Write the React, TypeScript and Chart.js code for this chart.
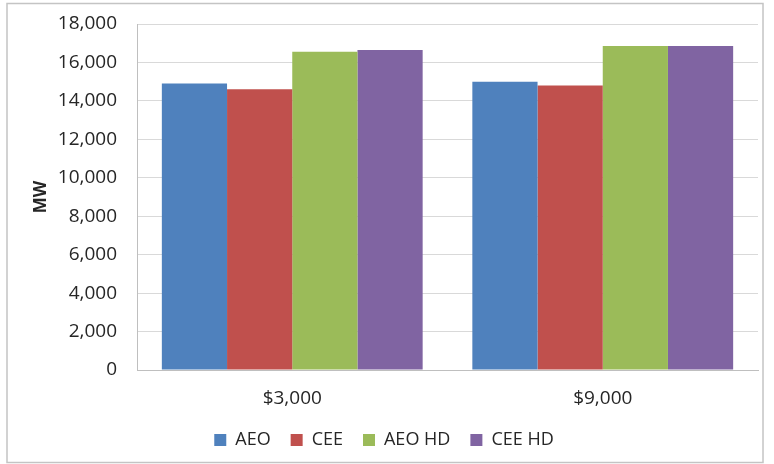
import React, { useEffect, useRef } from "react";
import { Chart, registerables } from "chart.js";

Chart.register(...registerables);

const categories = ["$3,000", "$9,000"];
const seriesNames = ["AEO", "CEE", "AEO HD", "CEE HD"];
const aeo = [14900, 15000];
const cee = [14600, 14800];
const aeoHd = [16550, 16850];
const ceeHd = [16650, 16850];
const seriesColors = ["#4F81BD", "#C0504D", "#9BBB59", "#8064A2"];
const yTicks = [0, 2000, 4000, 6000, 8000, 10000, 12000, 14000, 16000, 18000];

const W = 774;
const H = 464;
const FONT = "'Open Sans', 'DejaVu Sans', sans-serif";
const TEXT = "#262626";

// Light frame around the whole chart
const framePlugin = {
  id: "frame",
  afterDraw(chart: any) {
    const ctx = chart.ctx;
    ctx.save();
    ctx.strokeStyle = "#c4c4c4";
    ctx.lineWidth = 1.5;
    ctx.strokeRect(7, 3.5, 756, 459);
    ctx.restore();
  },
};

export default function App() {
  const ref = useRef<HTMLCanvasElement | null>(null);

  useEffect(() => {
    if (!ref.current) return;
    const values = [aeo, cee, aeoHd, ceeHd];
    const chart = new Chart(ref.current, {
      type: "bar",
      data: {
        labels: categories,
        datasets: seriesNames.map((name, i) => ({
          label: name,
          data: values[i],
          backgroundColor: seriesColors[i],
          borderWidth: 0,
          categoryPercentage: 0.84,
          barPercentage: 1.0,
        })),
      },
      options: {
        animation: false,
        responsive: false,
        maintainAspectRatio: false,
        layout: { padding: { left: 10, right: 16, top: 24, bottom: 5 } },
        font: { family: FONT },
        plugins: {
          tooltip: { enabled: false },
          legend: {
            position: "bottom",
            labels: {
              boxWidth: 12,
              boxHeight: 12,
              padding: 20,
              color: TEXT,
              font: { family: FONT, size: 18 },
            },
          },
        },
        scales: {
          x: {
            grid: { display: false, drawTicks: false },
            border: { display: true, color: "#bfbfbf", width: 1 },
            ticks: { color: TEXT, padding: 17, font: { family: FONT, size: 19 } },
            afterFit(scale: any) {
              scale.height = 41;
            },
          },
          y: {
            min: 0,
            max: 18000,
            afterBuildTicks(scale: any) {
              scale.ticks = yTicks.map((v) => ({ value: v }));
            },
            grid: { color: "#d9d9d9", lineWidth: 1, drawTicks: false },
            border: { display: true, color: "#bfbfbf", width: 1 },
            ticks: {
              color: TEXT,
              padding: 20,
              font: { family: FONT, size: 19 },
              callback: (v: any) => Number(v).toLocaleString("en-US"),
            },
            title: {
              display: true,
              text: "MW",
              color: TEXT,
              padding: { top: 21, bottom: 0 },
              font: { family: FONT, size: 17, weight: "bold" },
            },
            afterFit(scale: any) {
              scale.width = 127;
              // the outer layout padding already leaves room for the end labels
              scale.paddingTop = 0;
              scale.paddingBottom = 0;
            },
          },
        },
      },
      plugins: [framePlugin],
    });
    return () => chart.destroy();
  }, []);

  return (
    <div style={{ position: "absolute", left: 0, top: 0, width: W, height: H, background: "#fff" }}>
      <canvas ref={ref} width={W} height={H} style={{ width: W, height: H, display: "block" }} />
    </div>
  );
}
